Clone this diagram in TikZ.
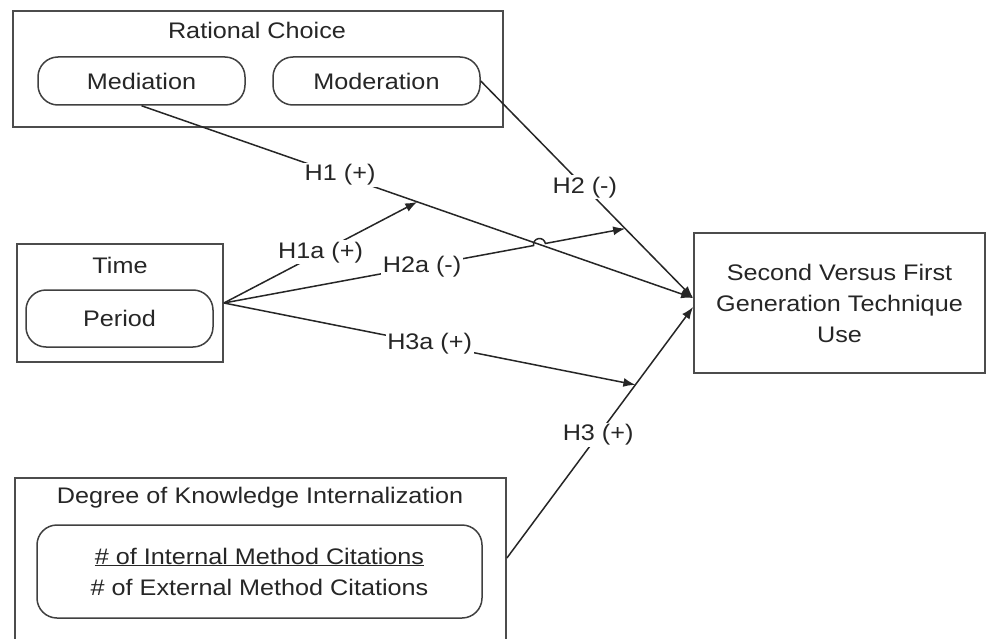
\documentclass[tikz,border=0pt]{standalone}
\usepackage{fontspec}
\setmainfont{Liberation Sans}[FakeStretch=1.12]
\usetikzlibrary{arrows.meta,calc,intersections}

\begin{document}
\begin{tikzpicture}[x=1pt, y=-1pt,
  every node/.style={font=\fontsize{22.5}{31}\selectfont, text=black!85},
  group/.style={draw=black!70, line width=1.8pt, rectangle, inner sep=0pt},
  item/.style={draw=black!75, line width=1.5pt, rounded corners=20pt, inner sep=0pt},
  hyp/.style={draw=black!85, line width=1.5pt},
  lbl/.style={fill=white, inner sep=1.5pt},
  >={Latex[length=12pt,width=9pt]}]

% Frame of the picture
\useasboundingbox (0,0) rectangle (992,639);
\fill[white] (0,0) rectangle (992,639);
\clip (0,0) rectangle (992,639);

% Rational choice
\node[group, minimum width=490pt, minimum height=116pt] (rational) at (258,69) {};
\node (rationaltitle) at (257,30) {Rational Choice};
\node[item, minimum width=207pt, minimum height=48pt] (mediation) at (141.5,81) {Mediation};
\node[item, minimum width=207pt, minimum height=48pt] (moderation) at (376.5,81) {Moderation};

% Time
\node[group, minimum width=206pt, minimum height=118pt] (time) at (120,303) {};
\node (timetitle) at (120,265) {Time};
\node[item, minimum width=187pt, minimum height=57pt] (period) at (119.5,318.5) {Period};

% Degree of knowledge internalization
\node[group, minimum width=491pt, minimum height=182pt] (degree) at (260.5,569) {};
\node (degreetitle) at (260,498) {Degree of Knowledge Internalization};
\node[item, minimum width=445pt, minimum height=93pt, align=center] (citations) at (259.5,571.5)
  {\underline{\# of Internal Method Citations}\\\# of External Method Citations};

% Outcome
\node[group, minimum width=291pt, minimum height=140pt, align=center] (outcome) at (839.5,303)
  {Second Versus First\\Generation Technique\\Use};

\coordinate (in1) at ($(outcome.west)+(0,-5)$);
\coordinate (in3) at ($(outcome.west)+(0,4)$);
\coordinate (out3) at ($(degree.east)+(0,-11)$);

% Direct hypotheses
\draw[hyp, ->, name path=h1] (mediation.south) -- node[lbl, pos=0.36] {H1 (+)} coordinate[pos=0.5] (h1mid) (in1);
\draw[hyp, ->] (moderation.east) -- node[lbl, pos=0.49] {H2 (-)} coordinate[pos=0.68] (h2in) (in1);
\draw[hyp, ->] (out3) -- node[lbl, pos=0.49] {H3 (+)} coordinate[pos=0.69] (h3in) (in3);

% Time hypotheses
\draw[hyp, ->] (time.east) -- node[lbl, pos=0.5] {H1a (+)} (h1mid);
\path[name path=h2a] (time.east) -- (h2in);
\path[name intersections={of=h1 and h2a, by=hop}];
\draw[hyp, ->] (time.east) -- node[lbl, pos=0.64] {H2a (-)} ($(hop)!6pt!(time.east)$)
  arc[start angle=190, end angle=10, radius=6pt] -- (h2in);
\draw[hyp, ->] (time.east) -- node[lbl, pos=0.5] {H3a (+)} (h3in);

\end{tikzpicture}
\end{document}
